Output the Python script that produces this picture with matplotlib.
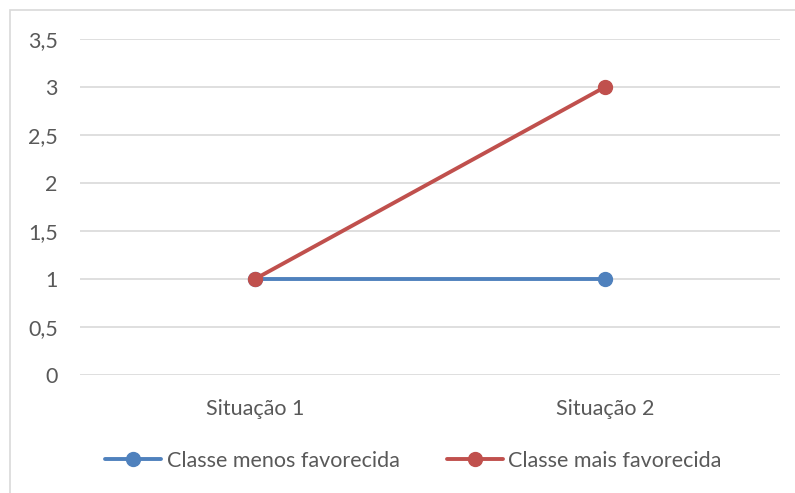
import matplotlib
matplotlib.use("Agg")
import matplotlib.pyplot as plt
from matplotlib.patches import Rectangle

categorias = ["Situação 1", "Situação 2"]
menos_favorecida = [1, 1]
mais_favorecida = [1, 3]
yticks = [0, 0.5, 1, 1.5, 2, 2.5, 3, 3.5]
ytick_labels = ["0", "0,5", "1", "1,5", "2", "2,5", "3", "3,5"]

plt.rcParams["font.family"] = ["Lato", "DejaVu Sans"]
TXT = "#595959"
FS = 15.5
W, H = 795, 493

fig = plt.figure(figsize=(W / 100, H / 100), dpi=100)
ax = fig.add_axes([80 / W, 1 - 375 / H, 700 / W, 336 / H])

x = [0.5, 1.5]
ax.plot(x, menos_favorecida, "-o", color="#4F81BD", lw=2.8, ms=10, label="Classe menos favorecida",
        solid_capstyle="round", zorder=3)
ax.plot(x, mais_favorecida, "-o", color="#C0504D", lw=2.8, ms=10, label="Classe mais favorecida",
        solid_capstyle="round", zorder=4)

ax.set_xlim(0, 2)
ax.set_ylim(0, 3.5)
ax.set_yticks(yticks)
ax.set_yticklabels(ytick_labels)
ax.set_xticks(x)
ax.set_xticklabels(categorias)
ax.tick_params(axis="both", length=0, labelsize=FS, colors=TXT)
ax.tick_params(axis="y", pad=16)
ax.tick_params(axis="x", pad=17)
for s in ax.spines.values():
    s.set_visible(False)
ax.grid(axis="y", color="#D9D9D9", lw=1.2)
ax.set_axisbelow(True)

leg = fig.legend(loc="center", bbox_to_anchor=(0.52, 1 - 461 / H), ncol=2, frameon=False,
                 fontsize=FS, handlelength=2.6, handletextpad=0.25, columnspacing=2.2)
for t in leg.get_texts():
    t.set_color(TXT)

fig.patches.append(Rectangle((10 / W, -0.05), 1.1, 1 - 10 / H + 0.05, transform=fig.transFigure,
                             fill=False, edgecolor="#D9D9D9", lw=1.2))

fig.savefig("out.png", dpi=100)
